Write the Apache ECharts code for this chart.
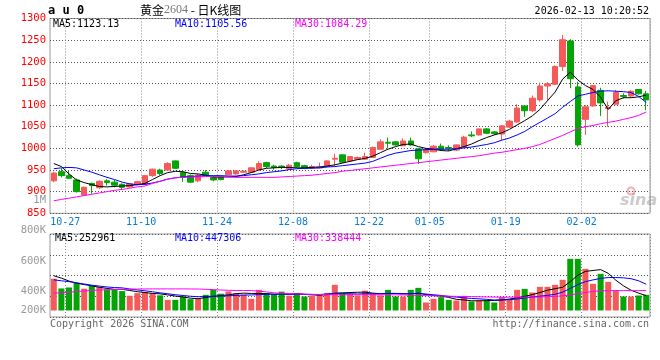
<!DOCTYPE html>
<html><head><meta charset="utf-8">
<script src="https://cdn.jsdelivr.net/npm/echarts@6.0.0/dist/echarts.min.js"></script>
<style>html,body{margin:0;padding:0;background:#fff}#c{width:660px;height:360px}</style>
</head><body><div id="c"></div>
<script>
const dates = ['10-23','10-24','10-27','10-28','10-29','10-30','10-31','11-03','11-04','11-05','11-06','11-07','11-10','11-11','11-12','11-13','11-14','11-17','11-18','11-19','11-20','11-21','11-24','11-25','11-26','11-27','11-28','12-01','12-02','12-03','12-04','12-05','12-08','12-09','12-10','12-11','12-12','12-15','12-16','12-17','12-18','12-19','12-22','12-23','12-24','12-25','12-26','12-29','12-30','12-31','01-05','01-06','01-07','01-08','01-09','01-12','01-13','01-14','01-15','01-16','01-19','01-20','01-21','01-22','01-23','01-26','01-27','01-28','01-29','01-30','02-02','02-03','02-04','02-05','02-06','02-09','02-10','02-11','02-12'];
const tickDates = ['10-27','11-10','11-24','12-08','12-22','01-05','01-19','02-02'];
const opens = [925,946,937,927,892,919,909,925,922,917, 911,917,917,937,950,950,971,944,937,925, 945,933,934,939,941,945,945,951,967,959, 959,953,967,960,955,955,958,975,985,971, 975,975,979,998,1014,1015,1006,1017,999,990, 992,1005,1002,996,1003,1031,1031,1045,1038,1033, 1049,1061,1098,1087,1112,1144,1148,1189,1248,1142, 1067,1098,1134,1092,1102,1122,1121,1136,1126];
const closes = [943,937,931,900,910,914,924,921,915,910, 918,923,937,952,942,965,954,933,922,938, 938,927,928,948,948,947,955,965,958,956, 956,961,958,954,958,957,971,977,968,981, 979,981,1002,1015,1012,1008,1017,1008,976,998, 1005,998,1000,1008,1026,1029,1045,1035,1034,1052, 1063,1093,1087,1116,1144,1149,1189,1251,1161,1008, 1096,1145,1105,1095,1129,1120,1132,1126,1112];
const lows = [922,933,929,898,890,895,906,914,910,905, 909,915,915,934,938,948,952,923,920,922, 936,924,926,938,939,943,944,950,954,951, 952,951,955,952,954,954,956,959,966,969, 973,974,978,997,1000,1006,1005,1006,964,988, 991,996,994,994,1001,1026,1030,1033,1031,1019, 1047,1059,1073,1083,1108,1110,1146,1179,1139,1004, 1031,1096,1075,1050,1100,1115,1119,1124,1088];
const highs = [946,954,950,930,912,921,926,929,927,919, 919,924,938,953,953,968,972,946,940,941, 950,936,936,950,950,949,956,970,969,962, 961,964,969,962,962,967,973,988,986,982, 981,990,1004,1021,1025,1016,1023,1025,1001,999, 1008,1011,1007,1009,1029,1039,1046,1047,1040,1054, 1066,1102,1100,1122,1152,1153,1192,1262,1252,1154, 1100,1146,1140,1108,1135,1127,1135,1137,1133];
const ma5 = [965,958,941,927,921,916,912,911,912,913, 914,916,919,928,937,944,947,946,942,941, 938,934, 934,934,935,939,944,950,954,955, 956,956,955,955,956,957,959,962,966,970, 974,977,982,990,998,1004,1009,1010,1004,1000, 998, 995,994,999,1004,1010,1018,1025,1031,1036, 1044,1054,1064, 1075,1090,1110,1130,1160,1176,1158,1145,1136,1118, 1090,1110,1117,1117,1119,1123];
const ma10 = [953,955,956,955,950,945,939,933,928,922, 918,916,917,920,924,929,932,934,935,936, 937,937, 937,936,936,937,939,941,944,946, 948,951,953,954,954,955,957,958,960,962, 964,966,970,977,984,989,992,995,996,997, 998, 998,998,999,1001,1003,1006,1009,1013,1019, 1024,1031,1039, 1050,1060,1070,1080,1095,1108,1121,1125,1129,1132, 1133,1132,1131,1129,1120,1106];
const ma30 = [879,882,885,888,891,894,897,900,903,905, 908,911,913,919,924,929,932,933,934,934, 935,935, 935,934,933,933,933,933,933,933, 934,935,936,937,938,940,942,944,947,949, 951,953,955,957,959,961,963,965,967,969, 971, 973,975,977,979,981,983,986,989,991, 994,997,1000, 1004,1009,1016,1023,1030,1038,1046,1050,1053,1057, 1060,1063,1067,1071,1076,1084];
const volumes = [540000,375000,391000,470000,370000,420000,400000,360000,360000,330000, 250000,295000,315000,295000,258000,181000,181000,238000,193000,200000, 266000,351000,285000,323000,295000,269000,198000,351000,295000,266000, 320000,252000,295000,238000,245000,272000,300000,436000,300000,280000, 257000,337000,283000,257000,351000,238000,238000,351000,385000,136000, 198000,227000,181000,170000,249000,153000,170000,170000,136000,227000, 181000,351000,368000,306000,402000,402000,436000,521000,878000,878000, 708000,453000,623000,487000,340000,238000,238000,255000,266000];
const volMa5 = [590000,550000,500000,465000,440000,420000,395000,375000,360000,360000, 340000,320000,305000,290000,283000,265000,245000,230000,210000,200000, 220000,240000,255000,265000,285000,295000,290000,290000,285000,275000, 280000,275000,285000,275000,265000,260000,270000,295000,300000,305000, 310000,312000,295000,285000,290000,290000,280000,285000,295000,270000, 255000,245000,222000,190000,180000,165000,165000,168000,170000,178000, 195000,215000,240000,270000,305000,345000,370000,395000,490000,600000, 665000,680000,695000,632000,515000,420000,345000,295000,253000];
const volMa10 = [521000,505000,490000,470000,450000,430000,415000,400000,390000,385000, 365000,350000,335000,318000,300000,285000,268000,255000,242000,234000, 238000,243000,245000,250000,256000,262000,264000,270000,275000,278000, 282000,278000,278000,274000,272000,272000,280000,285000,285000,285000, 280000,285000,285000,285000,290000,290000,288000,285000,290000,280000, 268000,255000,240000,228000,215000,205000,198000,190000,178000,182000, 184000,195000,212000,230000,242000,258000,275000,312000,375000,440000, 490000,520000,545000,560000,560000,555000,540000,505000,447000];
const volMa30 = [295000,300000,310000,322000,332000,340000,348000,352000,356000,360000, 363000,365000,366000,367000,367000,367000,367000,367000,366000,365000, 360000,355000,348000,343000,340000,340000,338000,330000,315000,300000, 292000,286000,282000,278000,275000,272000,270000,268000,268000,268000, 268000,268000,268000,268000,268000,266000,264000,260000,256000,252000, 249000,246000,243000,240000,238000,236000,233000,230000,228000,227000, 227000,227000,227000,228000,230000,234000,240000,250000,265000,285000, 305000,325000,333000,337000,338000,338000,338000,338000,338000];
const volTickValues = [1000000, 800000, 600000, 400000, 200000];
const volTickLabels = ['1M', '800K', '600K', '400K', '200K'];
const legendMain = ['MA5:1123.13', 'MA10:1105.56', 'MA30:1084.29'];
const legendVol = ['MA5:252961', 'MA10:447306', 'MA30:338444'];

const RED = '#f55a5a', GREEN = '#04a404', FRAME = '#9a9a9a';
const MONO = 'DejaVu Sans Mono';
const dottedV = {color: '#8a8a8a', type: [1, 2], width: 1};
const dottedH = {color: '#555555', type: [1, 2], width: 1};
const isTick = (i, v) => tickDates.indexOf(v !== undefined ? v : dates[i]) >= 0;
const isTickIdx = (i) => tickDates.indexOf(dates[i]) >= 0;

const chart = echarts.init(document.getElementById('c'), null, {renderer: 'canvas'});
const candleData = dates.map((d, i) => [opens[i], closes[i], lows[i], highs[i]]);
const volData = volumes.map((v, i) => ({value: v, itemStyle: {color: closes[i] >= opens[i] ? RED : GREEN}}));
function maLine(data, color, xi, yi) {
  return {type: 'line', data: data, xAxisIndex: xi, yAxisIndex: yi, symbol: 'none', showSymbol: false,
    lineStyle: {color: color, width: 1}, silent: true, z: 5};
}
const option = {
  animation: false,
  backgroundColor: '#fff',
  grid: [
    {left: 50, top: 18.5, width: 600, height: 194.8, show: true, borderColor: FRAME, borderWidth: 1, containLabel: false, outerBoundsMode: 'none'},
    {left: 50, top: 234, width: 600, height: 83, show: true, borderColor: FRAME, borderWidth: 1, containLabel: false, outerBoundsMode: 'none'},
    {left: 50, top: 234, width: 600, height: 76.5, containLabel: false, outerBoundsMode: 'none'},
    {left: 50, top: 200, width: 600, height: 122, containLabel: false, outerBoundsMode: 'none'}
  ],
  xAxis: [
    {gridIndex: 0, type: 'category', data: dates, boundaryGap: true,
      axisLine: {show: false}, axisTick: {show: false},
      axisLabel: {interval: (i, v) => isTick(i, v), color: '#0a7ad6', fontFamily: MONO, fontSize: 10, margin: 4, padding: [0, 7.6, 0, 0]},
      splitLine: {show: true, interval: (i) => isTickIdx(i), lineStyle: dottedV}},
    {gridIndex: 1, type: 'category', data: dates, boundaryGap: true,
      axisLine: {show: false}, axisTick: {show: false}, axisLabel: {show: false},
      splitLine: {show: true, interval: (i) => isTickIdx(i), lineStyle: dottedV}},
    {gridIndex: 2, type: 'category', data: dates, boundaryGap: true, show: false},
    {gridIndex: 3, type: 'value', show: false, min: 0, max: 1}
  ],
  yAxis: [
    {gridIndex: 0, type: 'value', min: 850, max: 1300, interval: 50,
      axisLine: {show: false}, axisTick: {show: false},
      axisLabel: {color: '#ff0000', fontFamily: MONO, fontSize: 10.5, margin: 4, formatter: (v) => String(v)},
      splitLine: {show: true, lineStyle: dottedH}},
    {gridIndex: 1, type: 'value', min: 0, max: 4, interval: 1,
      axisLine: {show: false}, axisTick: {show: false}, axisLabel: {show: false},
      splitLine: {show: true, lineStyle: dottedH}},
    {gridIndex: 2, type: 'value', min: 0, max: 1300000, show: false, splitLine: {show: false}},
    {gridIndex: 3, type: 'value', min: 200000, max: 1000000, interval: 200000,
      axisLine: {show: false}, axisTick: {show: false}, splitLine: {show: false},
      axisLabel: {color: '#999', fontFamily: MONO, fontSize: 10.5, margin: 4,
        formatter: function (v) {
          const k = volTickValues.indexOf(v);
          if (k < 0) return '';
          return k === volTickValues.length - 1 ? '{lo|' + volTickLabels[k] + '}' : volTickLabels[k];
        },
        rich: {lo: {padding: [0, 0, 24, 0], color: '#999', fontFamily: MONO, fontSize: 10.5}}}}
  ],
  series: [
    {type: 'candlestick', data: candleData, xAxisIndex: 0, yAxisIndex: 0, barWidth: 6, silent: true,
      itemStyle: {color: RED, color0: GREEN, borderColor: RED, borderColor0: GREEN, borderWidth: 1}},
    maLine(ma5, '#000000', 0, 0),
    maLine(ma10, '#0000ff', 0, 0),
    maLine(ma30, '#ff00ff', 0, 0),
    {type: 'bar', data: volData, xAxisIndex: 2, yAxisIndex: 2, barWidth: 6, silent: true},
    maLine(volMa5, '#000000', 2, 2),
    maLine(volMa10, '#0000ff', 2, 2),
    maLine(volMa30, '#ff00ff', 2, 2)
  ],
  graphic: [
    {type: 'text', x: 48, y: 11, style: {text: 'a u 0', fill: '#000', font: 'bold 12px DejaVu Sans Mono', verticalAlign: 'middle'}},
    {type: 'text', x: 140, y: 10, style: {
      text: '{a|黄金}{b|2604}{a| - 日K线图}', verticalAlign: 'middle',
      rich: {a: {fill: '#000', font: '12px "Noto Sans CJK SC"'}, b: {fill: '#777', font: '12px "Liberation Serif"'}}}},
    {type: 'text', x: 649, y: 11, style: {text: '2026-02-13 10:20:52', fill: '#000', font: '10px DejaVu Sans Mono', align: 'right', verticalAlign: 'middle'}},
    {type: 'text', x: 53, y: 24, style: {text: legendMain[0], fill: '#000', font: '10px DejaVu Sans Mono', verticalAlign: 'middle'}},
    {type: 'text', x: 175, y: 24, style: {text: legendMain[1], fill: '#0000ff', font: '10px DejaVu Sans Mono', verticalAlign: 'middle'}},
    {type: 'text', x: 295, y: 24, style: {text: legendMain[2], fill: '#ff00ff', font: '10px DejaVu Sans Mono', verticalAlign: 'middle'}},
    {type: 'text', x: 55, y: 238.5, style: {text: legendVol[0], fill: '#000', font: '10px DejaVu Sans Mono', verticalAlign: 'middle'}},
    {type: 'text', x: 175, y: 238.5, style: {text: legendVol[1], fill: '#0000ff', font: '10px DejaVu Sans Mono', verticalAlign: 'middle'}},
    {type: 'text', x: 295, y: 238.5, style: {text: legendVol[2], fill: '#ff00ff', font: '10px DejaVu Sans Mono', verticalAlign: 'middle'}},
    {type: 'text', x: 50, y: 324, style: {text: 'Copyright 2026 SINA.COM', fill: '#666', font: '10px DejaVu Sans Mono', verticalAlign: 'middle'}},
    {type: 'text', x: 649, y: 324, style: {text: 'http://finance.sina.com.cn', fill: '#666', font: '10px DejaVu Sans Mono', align: 'right', verticalAlign: 'middle'}},
    {type: 'circle', shape: {cx: 631, cy: 191, r: 3.5}, style: {fill: 'none', stroke: 'rgba(240,120,120,0.6)', lineWidth: 2}, silent: true},
    {type: 'text', x: 620, y: 201, style: {text: 'sina', fill: 'rgba(140,140,140,0.45)', font: 'italic bold 16px "DejaVu Sans"', verticalAlign: 'middle'}, silent: true}
  ]
};
chart.setOption(option);
</script></body></html>
